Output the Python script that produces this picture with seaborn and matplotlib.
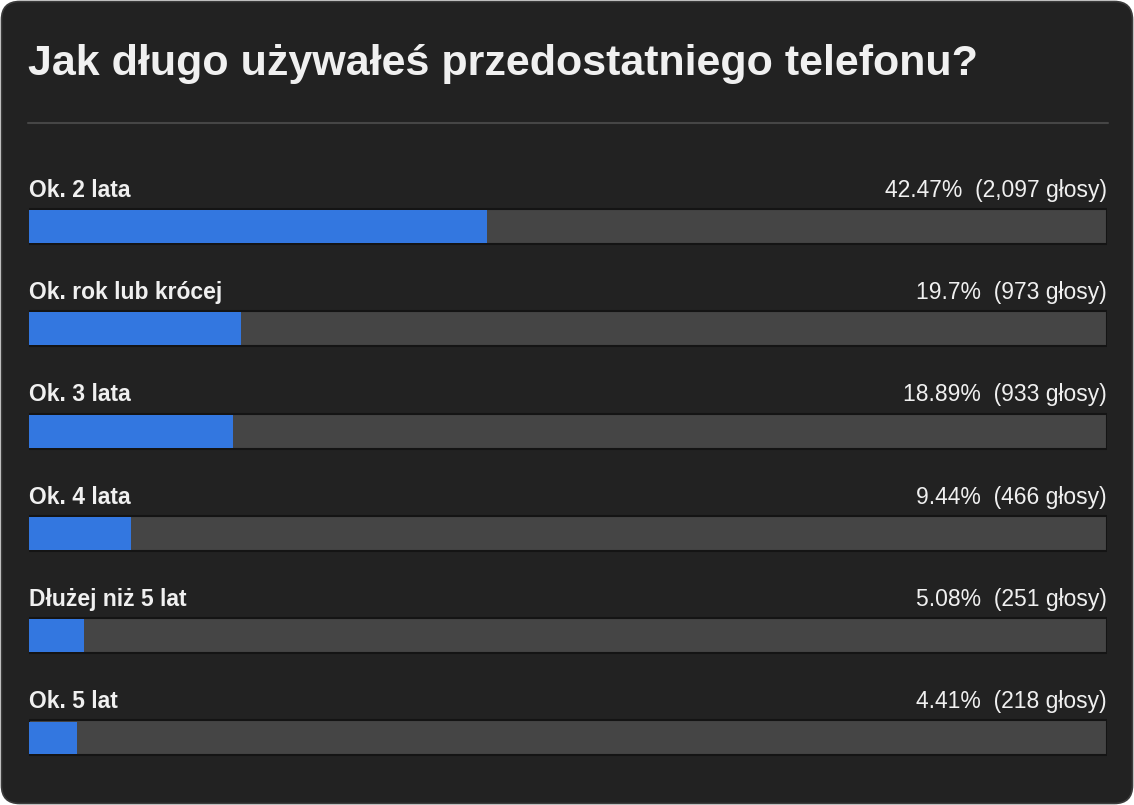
import matplotlib
matplotlib.use("Agg")
import matplotlib.pyplot as plt
import seaborn as sns
import pandas as pd
from matplotlib.patches import FancyBboxPatch

# =========================
# DATA
# =========================

title = "Jak długo używałeś przedostatniego telefonu?"

answers = [
    "Ok. 2 lata",
    "Ok. rok lub krócej",
    "Ok. 3 lata",
    "Ok. 4 lata",
    "Dłużej niż 5 lat",
    "Ok. 5 lat",
]

percents = [42.47, 19.7, 18.89, 9.44, 5.08, 4.41]
votes = ["2,097", "973", "933", "466", "251", "218"]

df = pd.DataFrame({
    "answer": answers,
    "percent": percents,
    "full": [100] * len(answers),
})

# =========================
# COLOURS
# =========================

card_bg = "#222222"
card_edge = "#3c3c3c"
track = "#454545"
blue = "#3377e0"
text_col = "#f0f0f0"

sns.set_theme(style="white")
plt.rcParams["font.family"] = ["Liberation Sans", "DejaVu Sans"]

fig = plt.figure(figsize=(11.34, 8.05), dpi=100)
fig.patch.set_facecolor("white")

# rounded card behind everything
card = FancyBboxPatch(
    (1.5 / 1134, 1.5 / 805),
    1131 / 1134,
    802 / 805,
    boxstyle="round,pad=0,rounding_size=0.016",
    transform=fig.transFigure,
    facecolor=card_bg,
    edgecolor=card_edge,
    linewidth=1.2,
    mutation_aspect=1134 / 805,
    zorder=-5,
)
fig.patches.append(card)

# title
fig.text(
    28 / 1134, 1 - 64 / 805,
    title,
    color=text_col,
    fontsize=31,
    fontweight="bold",
    va="center",
    ha="left",
)

# separator line
fig.add_artist(plt.Line2D(
    [28 / 1134, 1108 / 1134],
    [1 - 123 / 805, 1 - 123 / 805],
    transform=fig.transFigure,
    color="#464646",
    linewidth=1.5,
))

# =========================
# BARS
# =========================

ax = fig.add_axes([29 / 1134, 0.0197, 1078 / 1134, 0.7625])
ax.set_facecolor("none")
ax.set_zorder(2)

bar_h = 0.342

sns.barplot(
    data=df, x="full", y="answer", orient="h",
    color=track, width=bar_h, edgecolor="#141414",
    linewidth=1.5, saturation=1, ax=ax,
)
sns.barplot(
    data=df, x="percent", y="answer", orient="h",
    color=blue, width=bar_h - 0.02, linewidth=0,
    saturation=1, ax=ax,
)

ax.set_xlim(0, 100)
ax.set_ylim(5.5, -0.5)

for i, (a, p, v) in enumerate(zip(answers, percents, votes)):
    ax.text(
        0, i - 0.355, a,
        color=text_col, fontsize=16.5, fontweight="bold",
        ha="left", va="center",
    )
    ax.text(
        100, i - 0.355, f"{p:g}%  ({v} głosy)",
        color=text_col, fontsize=16.5,
        ha="right", va="center",
    )

ax.set_xlabel("")
ax.set_ylabel("")
ax.set_xticks([])
ax.set_yticks([])
sns.despine(ax=ax, left=True, bottom=True)

fig.savefig("out.png", dpi=100, facecolor=fig.get_facecolor())
